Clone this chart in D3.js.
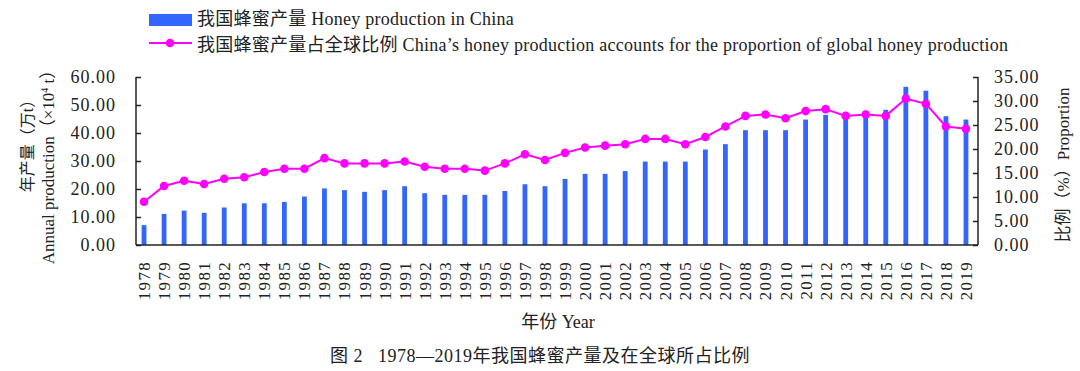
<!DOCTYPE html>
<html>
<head>
<meta charset="utf-8">
<script src="https://cdn.jsdelivr.net/npm/d3@7"></script>
<style>
  body { margin: 0; background: #fff; }
  svg { font-family: "Liberation Serif", "Noto Sans CJK SC", serif; }
</style>
</head>
<body>
<div id="chart"></div>
<script>
const years = d3.range(1978, 2020).map(String);
const production = [7.1, 11.1, 12.3, 11.5, 13.4, 14.9, 14.9, 15.4, 17.3, 20.2,
  19.6, 19.0, 19.6, 21.0, 18.5, 17.9, 17.9, 17.9, 19.3, 21.7,
  21.0, 23.6, 25.4, 25.4, 26.4, 29.8, 29.8, 29.8, 34.1, 36.0,
  41.0, 41.0, 41.0, 44.8, 46.5, 46.1, 47.9, 48.3, 56.5, 55.1,
  46.0, 44.8];
const proportion = [9.0, 12.3, 13.4, 12.7, 13.8, 14.1, 15.2, 15.9, 15.9, 18.1,
  17.0, 17.0, 17.0, 17.4, 16.3, 15.9, 15.9, 15.5, 17.0, 18.9,
  17.7, 19.2, 20.3, 20.7, 21.0, 22.1, 22.1, 21.0, 22.5, 24.7,
  26.9, 27.2, 26.4, 27.9, 28.3, 26.9, 27.2, 26.9, 30.5, 29.4,
  24.7, 24.2];
const leftTicks = [0, 10, 20, 30, 40, 50, 60];
const rightTicks = [0, 5, 10, 15, 20, 25, 30, 35];

const W = 1080, H = 371,
  margin = { top: 77, right: 102, bottom: 126, left: 136 },
  width = W - margin.left - margin.right,
  height = H - margin.top - margin.bottom,
  barColor = "#3366ff",
  lineColor = "#ff00ff",
  ink = "#222";

const svg = d3.select("#chart").append("svg")
  .attr("width", W).attr("height", H);

const g = svg.append("g")
  .attr("transform", "translate(" + margin.left + "," + margin.top + ")");

const x = d3.scaleBand().domain(years).range([-2, width - 2]).paddingInner(0.76).paddingOuter(0.38);
const yL = d3.scaleLinear().domain([0, 60]).range([height, 0]);
const yR = d3.scaleLinear().domain([0, 35]).range([height, 0]);

// bars
g.selectAll(".bar").data(production).enter().append("rect")
  .attr("class", "bar")
  .attr("x", (d, i) => x(years[i]))
  .attr("width", x.bandwidth())
  .attr("y", d => yL(d))
  .attr("height", d => height - yL(d))
  .attr("fill", barColor);

// line + markers
const cx = i => x(years[i]) + x.bandwidth() / 2;
g.append("path").datum(proportion)
  .attr("fill", "none").attr("stroke", lineColor).attr("stroke-width", 2)
  .attr("d", d3.line().x((d, i) => cx(i)).y(d => yR(d)));
g.selectAll(".dot").data(proportion).enter().append("circle")
  .attr("cx", (d, i) => cx(i)).attr("cy", d => yR(d)).attr("r", 4.3)
  .attr("fill", lineColor);

// axes
const leftAxis = g.append("g")
  .call(d3.axisLeft(yL).tickValues(leftTicks).tickSize(-5).tickPadding(20).tickFormat(d3.format(".2f")));
const rightAxis = g.append("g").attr("transform", "translate(" + width + ",0)")
  .call(d3.axisRight(yR).tickValues(rightTicks).tickSize(-5).tickPadding(16).tickFormat(d3.format(".2f")));
[leftAxis, rightAxis].forEach(a => {
  a.select(".domain").attr("d", "M0,0V" + height)
    .attr("stroke", ink).attr("stroke-width", 1.5);
  a.selectAll(".tick line").attr("stroke", ink).attr("stroke-width", 1.5);
  a.selectAll(".tick text").attr("font-size", 18).attr("letter-spacing", 1)
    .attr("fill", ink).attr("font-family", "Liberation Serif");
});

const bottomAxis = g.append("g").attr("transform", "translate(0," + height + ")")
  .call(d3.axisBottom(x).tickSize(0).tickPadding(0));
bottomAxis.select(".domain").attr("d", "M0,0H" + width).attr("stroke", ink).attr("stroke-width", 1.5);
bottomAxis.selectAll(".tick text")
  .attr("font-size", 17).attr("letter-spacing", 1.3).attr("fill", ink)
  .attr("font-family", "Liberation Serif")
  .attr("transform", "rotate(-90)")
  .attr("text-anchor", "end").attr("dy", "0.35em")
  .attr("x", -16).attr("y", 0);

// axis titles
svg.append("text")
  .attr("transform", "translate(27,142) rotate(-90)")
  .attr("text-anchor", "middle").attr("dy", "0.35em").attr("font-size", 16).attr("fill", ink)
  .text("年产量（万t）");
const at = svg.append("text")
  .attr("transform", "translate(48,163) rotate(-90)")
  .attr("text-anchor", "middle").attr("dy", "0.35em").attr("font-size", 17).attr("fill", ink);
at.append("tspan").text("Annual production（×10");
at.append("tspan").attr("font-size", 10).attr("dy", -6).text("4");
at.append("tspan").attr("dy", 6).text(" t）");

svg.append("text")
  .attr("transform", "translate(1063,165) rotate(-90)")
  .attr("text-anchor", "middle").attr("dy", "0.35em").attr("font-size", 17).attr("fill", ink)
  .text("比例（%）Proportion");

svg.append("text")
  .attr("x", 558).attr("y", 328).attr("text-anchor", "middle")
  .attr("font-size", 18).attr("fill", ink).text("年份 Year");

svg.append("text")
  .attr("x", 540).attr("y", 362).attr("text-anchor", "middle")
  .attr("font-size", 18).attr("letter-spacing", 0.5).attr("fill", ink)
  .attr("xml:space", "preserve")
  .text("图 2   1978—2019年我国蜂蜜产量及在全球所占比例");

// legend
const lg = svg.append("g");
lg.append("rect").attr("x", 149).attr("y", 14).attr("width", 43).attr("height", 12).attr("fill", barColor);
lg.append("text").attr("x", 197).attr("y", 25).attr("font-size", 18).attr("letter-spacing", 0.25).attr("fill", ink)
  .text("我国蜂蜜产量 Honey production in China");
lg.append("line").attr("x1", 149).attr("x2", 192).attr("y1", 43).attr("y2", 43)
  .attr("stroke", lineColor).attr("stroke-width", 2);
lg.append("circle").attr("cx", 170).attr("cy", 43).attr("r", 4.3).attr("fill", lineColor);
lg.append("text").attr("x", 197).attr("y", 51).attr("font-size", 18).attr("letter-spacing", 0.25).attr("fill", ink)
  .text("我国蜂蜜产量占全球比例 China’s honey production accounts for the proportion of global honey production");
</script>
</body>
</html>
